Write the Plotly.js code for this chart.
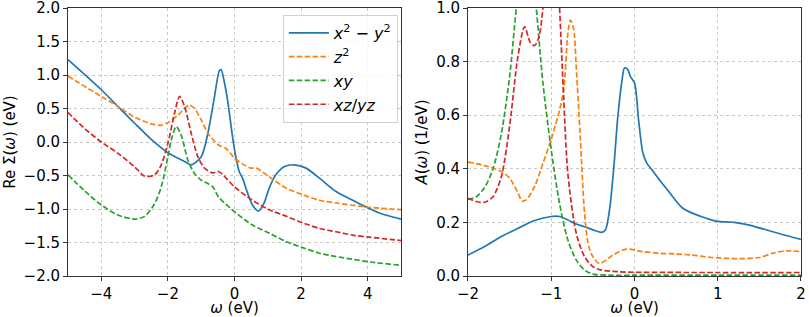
<!DOCTYPE html>
<html><head><meta charset="utf-8">
<script src="https://cdn.plot.ly/plotly-3.0.1.min.js"></script>
<style>html,body{margin:0;padding:0;background:#fff}</style>
</head><body><div id="chart" style="width:809px;height:317px"></div>
<script>
// Left panel: Re Sigma(omega)
const wBlueL = [-5,-4,-3.5,-3,-2.5,-2,-1.5,-1.3,-1.0,-0.8,-0.6,-0.45,-0.4,-0.3,-0.2,-0.06,0.04,0.14,0.24,0.39,0.54,0.72,0.89,1.04,1.24,1.49,1.8,2.15,2.55,3.05,3.55,3.95,4.35,4.75,5.0];
const reBlue  = [1.23,0.78,0.53,0.28,0.04,-0.16,-0.29,-0.34,-0.22,0.13,0.68,1.07,1.08,0.88,0.60,0.08,-0.22,-0.44,-0.54,-0.76,-0.94,-1.03,-0.91,-0.69,-0.49,-0.37,-0.34,-0.39,-0.54,-0.74,-0.87,-0.97,-1.06,-1.12,-1.15];
const wOrangeL = [-5,-4,-3.5,-3,-2.5,-2.2,-2,-1.7,-1.5,-1.35,-1.2,-1.0,-0.8,-0.48,-0.25,0.0,0.25,0.5,0.66,0.96,1.56,2.07,2.55,3.05,3.95,5.0];
const reOrange = [0.98,0.68,0.53,0.37,0.27,0.25,0.29,0.40,0.50,0.55,0.50,0.33,0.13,-0.045,-0.10,-0.24,-0.33,-0.39,-0.39,-0.49,-0.69,-0.79,-0.87,-0.91,-0.97,-1.01];
const wGreenL = [-5,-4.5,-4,-3.5,-3.0,-2.7,-2.4,-2.2,-2.0,-1.9,-1.75,-1.6,-1.4,-1.2,-1.0,-0.8,-0.65,-0.48,0.0,0.54,1.04,1.56,2.07,2.55,3.05,3.55,4.05,5.0];
const reGreen = [-0.49,-0.73,-0.94,-1.09,-1.15,-1.11,-0.92,-0.67,-0.22,0.03,0.23,0.10,-0.27,-0.47,-0.57,-0.62,-0.67,-0.82,-1.04,-1.24,-1.36,-1.49,-1.58,-1.66,-1.71,-1.75,-1.79,-1.84];
const wRedL = [-5,-4.5,-4,-3.5,-3,-2.7,-2.4,-2.2,-2.0,-1.8,-1.65,-1.5,-1.3,-1.1,-0.9,-0.65,-0.48,0.0,0.54,1.04,1.56,2.07,2.55,3.05,3.55,4.05,5.0];
const reRed = [0.44,0.20,0.0,-0.17,-0.37,-0.51,-0.49,-0.34,-0.02,0.43,0.68,0.53,0.13,-0.22,-0.39,-0.46,-0.44,-0.67,-0.87,-1.01,-1.11,-1.21,-1.29,-1.34,-1.39,-1.42,-1.47];

// Right panel: A(omega)
const wBlueR = [-2,-1.8,-1.6,-1.4,-1.2,-1.0,-0.9,-0.8,-0.7,-0.6,-0.5,-0.4,-0.35,-0.3,-0.25,-0.2,-0.15,-0.12,-0.08,-0.05,0.0,0.05,0.1,0.15,0.2,0.3,0.4,0.58,0.8,0.98,1.2,1.38,1.66,1.98,2.0];
const aBlue = [0.078,0.11,0.147,0.178,0.207,0.222,0.222,0.209,0.194,0.184,0.172,0.163,0.172,0.247,0.40,0.595,0.73,0.776,0.77,0.745,0.72,0.58,0.46,0.42,0.40,0.358,0.32,0.253,0.222,0.205,0.20,0.19,0.165,0.138,0.137];
const wOrangeR = [-2,-1.8,-1.6,-1.5,-1.4,-1.35,-1.3,-1.2,-1.1,-1.0,-0.9,-0.85,-0.8,-0.77,-0.73,-0.7,-0.65,-0.6,-0.55,-0.5,-0.42,-0.26,-0.1,0.1,0.3,0.5,0.7,0.9,1.1,1.3,1.5,1.66,1.82,2.0];
const aOrange = [0.425,0.412,0.39,0.365,0.31,0.28,0.284,0.334,0.42,0.51,0.62,0.695,0.906,0.955,0.92,0.78,0.51,0.234,0.11,0.072,0.047,0.078,0.10,0.091,0.085,0.082,0.078,0.07,0.066,0.065,0.069,0.085,0.094,0.091];
const wGreenR = [-2,-1.9,-1.8,-1.7,-1.6,-1.5,-1.42,-1.3,-1.18,-1.1,-1.0,-0.9,-0.8,-0.7,-0.6,-0.5,-0.3,0.0,1.0,2.0];
const aGreen = [0.286,0.296,0.33,0.40,0.53,0.745,1.0,1.35,1.0,0.72,0.47,0.27,0.134,0.06,0.022,0.007,0.003,0.003,0.003,0.003];
const wRedR = [-2,-1.9,-1.8,-1.7,-1.6,-1.5,-1.4,-1.32,-1.25,-1.2,-1.15,-1.1,-1.0,-0.9,-0.85,-0.8,-0.7,-0.6,-0.5,-0.4,-0.2,0.0,1.0,2.0];
const aRed = [0.29,0.278,0.275,0.296,0.37,0.56,0.82,0.93,0.87,0.86,0.89,1.0,1.6,1.0,0.66,0.38,0.16,0.072,0.035,0.022,0.016,0.014,0.013,0.013];

const names = ['<i>x</i><sup>2</sup> − <i>y</i><sup>2</sup>','<i>z</i><sup>2</sup>','<i>xy</i>','<i>xz</i>/<i>yz</i>'];
const colors = ['#1f77b4','#ff7f0e','#2ca02c','#d62728'];
const dashes = ['solid','5.5px,2.4px','5.5px,2.4px','5.5px,2.4px'];

const left = [[wBlueL,reBlue],[wOrangeL,reOrange],[wGreenL,reGreen],[wRedL,reRed]];
const right = [[wBlueR,aBlue],[wOrangeR,aOrange],[wGreenR,aGreen],[wRedR,aRed]];
const traces = [];
left.forEach((d,i)=>traces.push({x:d[0],y:d[1],type:'scatter',mode:'lines',name:names[i],
  line:{color:colors[i],width:1.7,dash:dashes[i],shape:'spline',smoothing:0.8},xaxis:'x',yaxis:'y'}));
right.forEach((d,i)=>traces.push({x:d[0],y:d[1],type:'scatter',mode:'lines',name:names[i],showlegend:false,
  line:{color:colors[i],width:1.7,dash:dashes[i],shape:'spline',smoothing:0.8},xaxis:'x2',yaxis:'y2'}));

const font = {family:'DejaVu Sans, sans-serif',size:15,color:'#000'};
const axBase = {showline:true,mirror:true,linecolor:'#333',linewidth:1,ticks:'outside',ticklen:4,tickcolor:'#333',
  showgrid:true,gridcolor:'#c8c8c8',griddash:'dot',gridwidth:1,zeroline:false,tickfont:font,ticklabeloverflow:'allow'};
const layout = {
  width:809,height:317,margin:{l:68,r:8,t:8,b:41},paper_bgcolor:'#fff',plot_bgcolor:'#fff',font:font,
  showlegend:true,
  legend:{x:0.450,y:0.974,xanchor:'right',yanchor:'top',bgcolor:'rgba(255,255,255,0.8)',bordercolor:'#d0d0d0',borderwidth:1,font:{family:'DejaVu Sans, sans-serif',size:16,color:'#000'},tracegroupgap:0,itemwidth:40},
  xaxis:Object.assign({},axBase,{domain:[0,0.4543],range:[-5,5],dtick:2,tick0:0,title:{text:'<i>ω</i> (eV)',font:font,standoff:3}}),
  yaxis:Object.assign({},axBase,{range:[-2,2],dtick:0.5,tickformat:'.1f',title:{text:'Re Σ(<i>ω</i>) (eV)',font:font,standoff:4}}),
  xaxis2:Object.assign({},axBase,{domain:[0.5457,1],range:[-2,2],dtick:1,anchor:'y2',title:{text:'<i>ω</i> (eV)',font:font,standoff:3}}),
  yaxis2:Object.assign({},axBase,{range:[0,1],dtick:0.2,tickformat:'.1f',anchor:'x2',title:{text:'<i>A</i>(<i>ω</i>) (1/eV)',font:font,standoff:4}})
};
Plotly.newPlot('chart',traces,layout,{displayModeBar:false,staticPlot:true});
</script></body></html>
